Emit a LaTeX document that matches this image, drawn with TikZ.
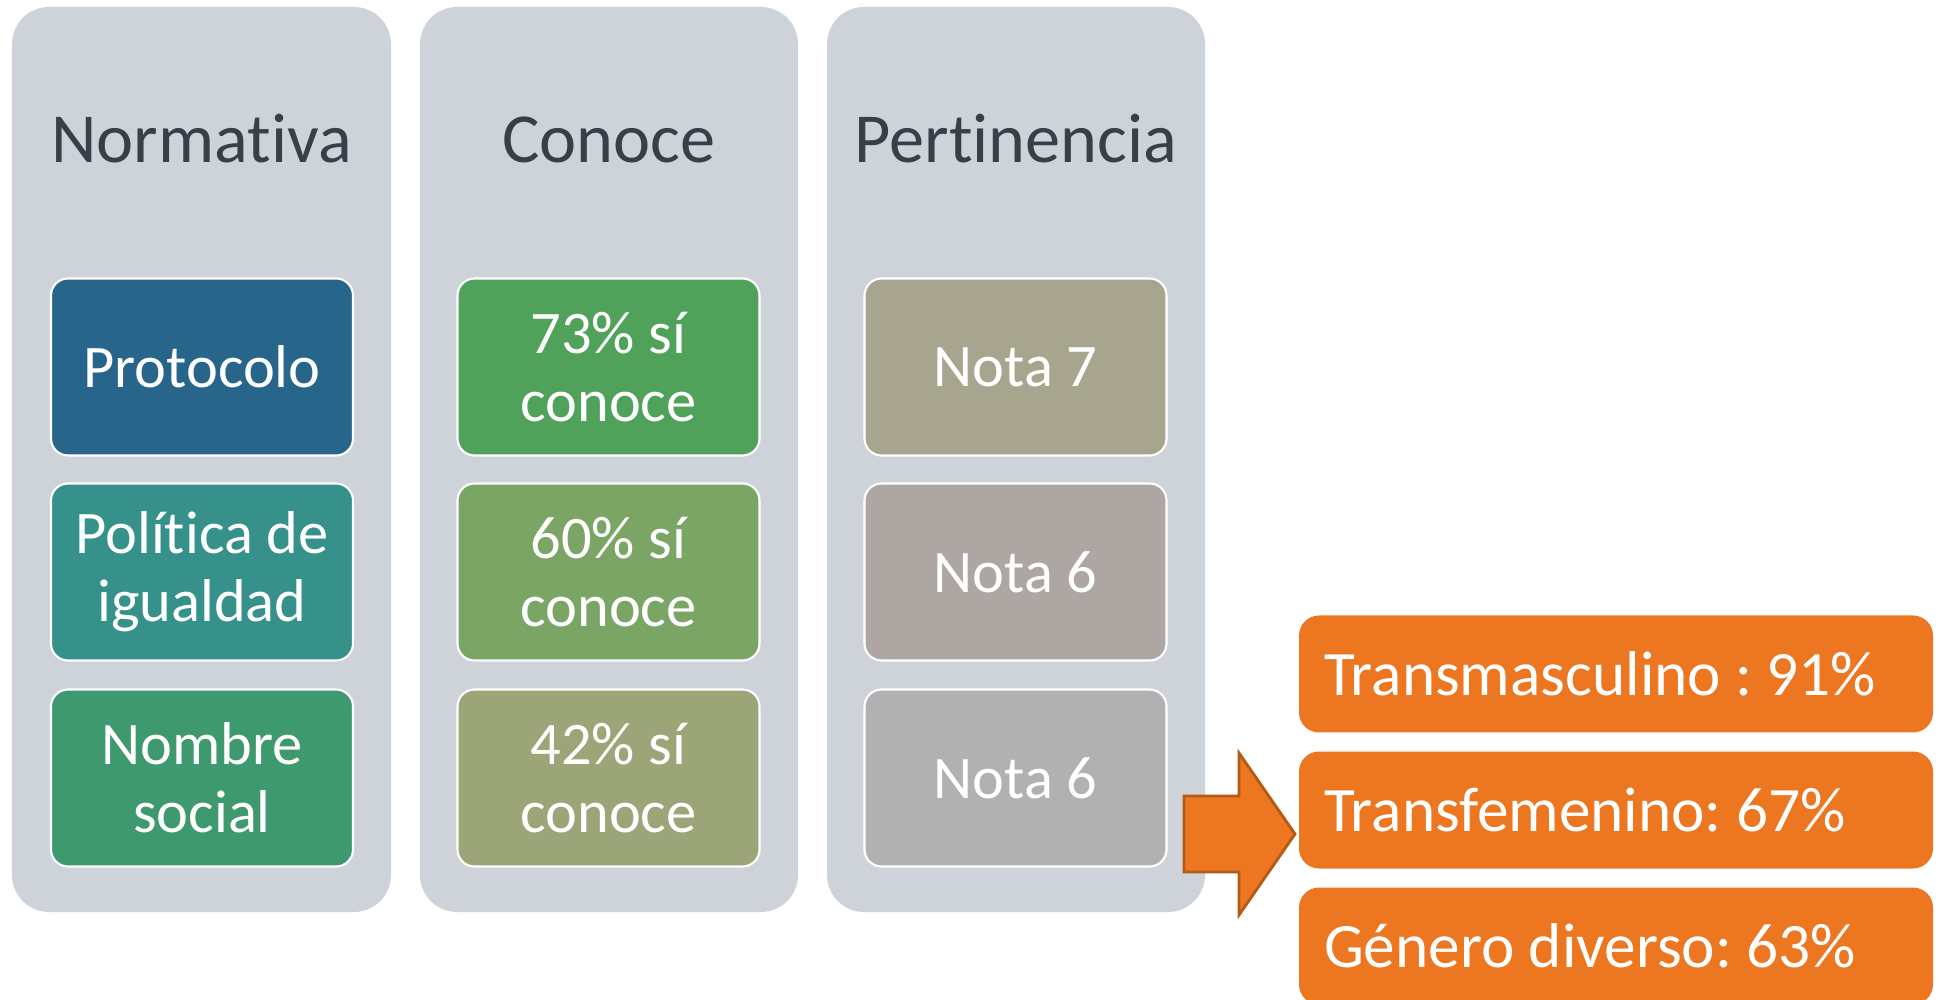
\documentclass[tikz,border=0pt]{standalone}
\usepackage{fontspec}
\setmainfont{Carlito}
\frenchspacing
\newcommand{\nolig}{\kern0pt}
\definecolor{colbg}{HTML}{CED2D9}
\definecolor{titlegray}{HTML}{3A3E48}
\definecolor{protblue}{HTML}{28658A}
\definecolor{politeal}{HTML}{35918A}
\definecolor{nsgreen}{HTML}{3E9A6E}
\definecolor{congreen}{HTML}{50A25A}
\definecolor{conmid}{HTML}{7AA565}
\definecolor{conolive}{HTML}{9BA578}
\definecolor{nota1}{HTML}{A8A58E}
\definecolor{nota2}{HTML}{ADA6A2}
\definecolor{nota3}{HTML}{B1B1B1}
\definecolor{resorange}{HTML}{ED7620}
\definecolor{arrowedge}{HTML}{B25B16}

\begin{document}
\begin{tikzpicture}
	\tikzstyle{title} = [anchor=base, text=titlegray, font=\fontsize{20}{24}\selectfont]
	\tikzstyle{item} = [draw=white, line width=0.6pt, rounded corners=0.17cm, minimum width=3.02cm, minimum height=1.77cm, text=white, align=center, font=\fontsize{17.2}{19.3}\selectfont]
	\tikzstyle{result} = [fill=resorange, rounded corners=0.2cm, minimum width=6.34cm, minimum height=1.17cm, text width=5.84cm, inner xsep=0.25cm, align=flush left, text=white, font=\fontsize{18}{21}\selectfont]
	\useasboundingbox (0,0) rectangle (19.44,9.99);

	\fill[colbg, rounded corners=0.37cm] (0.12,0.87) rectangle (3.91,9.92);
	\fill[colbg, rounded corners=0.37cm] (4.20,0.87) rectangle (7.98,9.92);
	\fill[colbg, rounded corners=0.37cm] (8.27,0.87) rectangle (12.05,9.92);

	\node[title] (Norm) at (2.015,8.36) {Normat\nolig iva};
	\node[title] (Conoce) at (6.09,8.36) {Conoce};
	\node[title] (Pert) at (10.16,8.36) {Pert\nolig inencia};

	\node[item, fill=protblue] (Prot) at (2.02,6.32) {Protocolo};
	\node[item, fill=politeal] (Polit) at (2.02,4.27) {Polít\nolig ica de\\igualdad};
	\node[item, fill=nsgreen] (NSocial) at (2.02,2.21) {Nombre\\social};

	\node[item, fill=congreen] (Conoce1) at (6.085,6.32) {73\% sí\\conoce};
	\node[item, fill=conmid] (Conoce2) at (6.085,4.27) {60\% sí\\conoce};
	\node[item, fill=conolive] (Conoce3) at (6.085,2.21) {42\% sí\\conoce};

	\node[item, fill=nota1] (Pert1) at (10.155,6.32) {Nota 7};
	\node[item, fill=nota2] (Pert2) at (10.155,4.27) {Nota 6};
	\node[item, fill=nota3] (Pert3) at (10.155,2.21) {Nota 6};

	% block arrow
	\filldraw[fill=resorange, draw=arrowedge, line width=0.8pt, line join=miter]
		(11.84,2.03) -- (12.39,2.03) -- (12.39,2.46) -- (12.95,1.65)
		-- (12.39,0.84) -- (12.39,1.27) -- (11.84,1.27) -- cycle;

	\node[result] (TMasc) at (16.16,3.25) {Transmasculino : 91\%};
	\node[result] (TFem) at (16.16,1.89) {Transfemenino: 67\%};
	\node[result] (GDiv) at (16.16,0.53) {Género diverso: 63\%};
\end{tikzpicture}
\end{document}
